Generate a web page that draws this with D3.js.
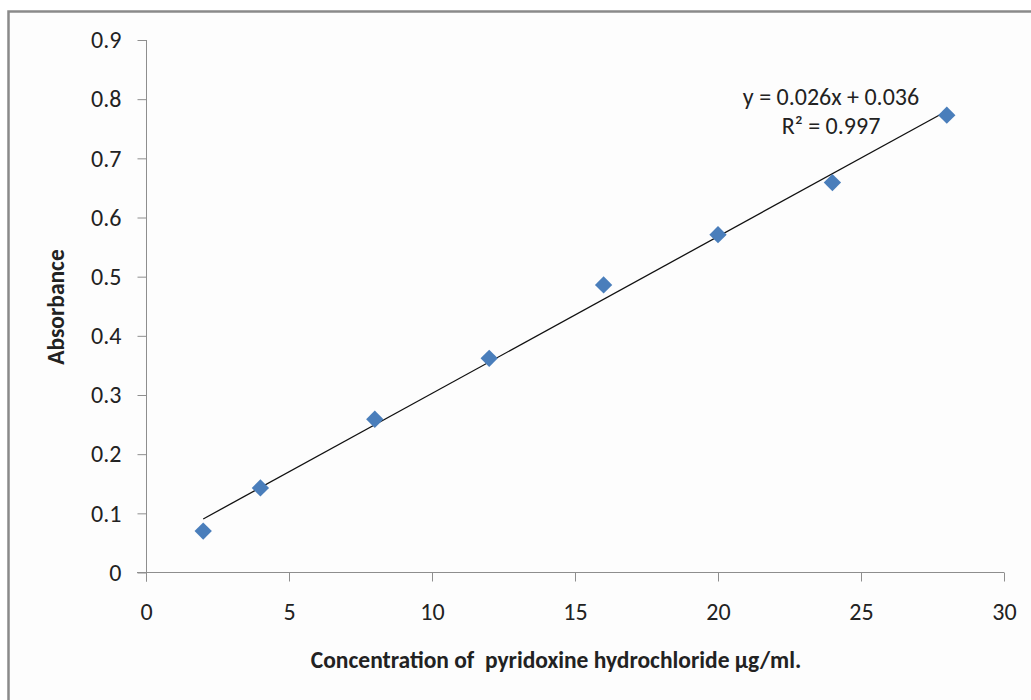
<!DOCTYPE html>
<html>
<head>
<meta charset="utf-8">
<script src="https://cdn.jsdelivr.net/npm/d3@7"></script>
<style>
  body { margin: 0; background: #fff; }
  text { font-family: Carlito, Lato, sans-serif; fill: #222; }
</style>
</head>
<body>
<div class="chart"></div>
<script>
// concentration (µg/ml) and absorbance
var conc = [2, 4, 8, 12, 16, 20, 24, 28];
var absorbance = [0.070, 0.143, 0.259, 0.362, 0.486, 0.571, 0.659, 0.773];
var xTicks = [0, 5, 10, 15, 20, 25, 30];
var yTicks = [0, 0.1, 0.2, 0.3, 0.4, 0.5, 0.6, 0.7, 0.8, 0.9];
var eqLines = ["y = 0.026x + 0.036", "R² = 0.997"];

const width = 1031;
const height = 700;

const svg = d3.select('.chart')
    .append('svg')
    .attr('width', width)
    .attr('height', height);

// outer frame (cut off at the right and bottom)
svg.append('rect')
    .attr('x', 8.5).attr('y', 11.5)
    .attr('width', 1100).attr('height', 800)
    .attr('fill', '#fdfdfd')
    .attr('stroke', '#8a8a8a')
    .attr('stroke-width', 2.5);

const x = d3.scaleLinear().domain([0, 30]).range([146, 1004]);
const y = d3.scaleLinear().domain([0, 0.9]).range([572.5, 40]);

const axisColor = '#8e8e8e';
const tickFont = '24px';

// y axis
const yAxis = svg.append('g')
    .attr('transform', 'translate(146.5,0)')
    .call(d3.axisLeft(y).tickValues(yTicks).tickSize(9).tickPadding(16)
        .tickFormat(d => d === 0 ? '0' : d3.format('.1f')(d)));
yAxis.select('.domain').attr('d', 'M0,' + y(0.9) + 'V' + (y(0) + 9)).attr('stroke', axisColor);
yAxis.selectAll('.tick line').attr('stroke', axisColor);
yAxis.selectAll('.tick text').attr('font-size', tickFont).attr('fill', '#222');

// x axis
const xAxis = svg.append('g')
    .attr('transform', 'translate(0,572.5)')
    .call(d3.axisBottom(x).tickValues(xTicks).tickSize(9));
xAxis.select('.domain').attr('d', 'M' + (x(0) - 9) + ',0H' + x(30)).attr('stroke', axisColor);
xAxis.selectAll('.tick line').attr('stroke', axisColor);
xAxis.selectAll('.tick text')
    .attr('font-size', tickFont).attr('fill', '#222')
    .attr('dy', null).attr('y', 47.5);
xAxis.selectAll('.tick')
    .attr('transform', d => 'translate(' + (x(d) + 0.5) + ',0)');

// linear trendline (least squares through the points)
const n = conc.length;
const mx = d3.mean(conc), my = d3.mean(absorbance);
let sxy = 0, sxx = 0;
for (let i = 0; i < n; i++) {
    sxy += (conc[i] - mx) * (absorbance[i] - my);
    sxx += (conc[i] - mx) * (conc[i] - mx);
}
const slope = sxy / sxx;
const intercept = my - slope * mx;
const xMin = d3.min(conc), xMax = d3.max(conc);

svg.append('line')
    .attr('x1', x(xMin)).attr('y1', y(slope * xMin + intercept))
    .attr('x2', x(xMax)).attr('y2', y(slope * xMax + intercept))
    .attr('stroke', '#111')
    .attr('stroke-width', 1.3);

// diamond markers
const diamond = d3.symbol().type(d3.symbolSquare).size(150);
svg.append('g')
    .selectAll('path')
    .data(conc)
    .enter()
    .append('path')
        .attr('d', diamond)
        .attr('transform', (d, i) => 'translate(' + x(d) + ',' + y(absorbance[i]) + ') rotate(45)')
        .attr('fill', '#4a7ebb');

// equation label
svg.append('g')
    .selectAll('text')
    .data(eqLines)
    .enter()
    .append('text')
        .attr('x', 831)
        .attr('y', (d, i) => 105 + i * 29)
        .attr('text-anchor', 'middle')
        .attr('font-size', '24px')
        .text(d => d);

// axis titles
svg.append('text')
    .attr('transform', 'translate(64,307) rotate(-90)')
    .attr('text-anchor', 'middle')
    .attr('font-size', '23.5px')
    .attr('font-weight', 'bold')
    .text('Absorbance');

svg.append('text')
    .attr('x', 556)
    .attr('y', 668)
    .attr('text-anchor', 'middle')
    .attr('font-size', '23.5px')
    .attr('font-weight', 'bold')
    .style('white-space', 'pre')
    .text('Concentration of  pyridoxine hydrochloride µg/ml.');
</script>
</body>
</html>
